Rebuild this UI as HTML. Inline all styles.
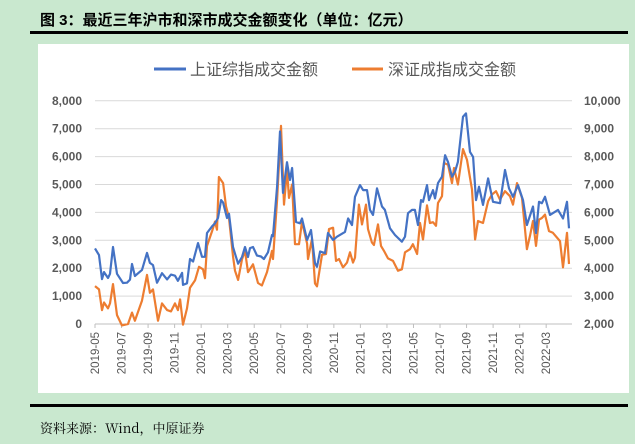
<!DOCTYPE html>
<html><head><meta charset="utf-8">
<style>
body{margin:0;width:635px;height:439px;background:#c9e8cf;overflow:hidden;font-family:"Liberation Sans","Noto Sans CJK SC",sans-serif;}
</style></head>
<body>
<svg width="635" height="439" xmlns="http://www.w3.org/2000/svg">
<text x="40" y="25" font-size="15" font-weight="bold" fill="#000" font-family="'Liberation Sans','Noto Sans CJK SC',sans-serif">图 3：最近三年沪市和深市成交金额变化（单位：亿元）</text>
<rect x="30" y="31" width="598" height="3" fill="#000"/>
<rect x="38" y="44" width="591" height="349" fill="#fff"/>
<g id="grid"></g>
<g id="ticks"></g>
<g id="series"></g>
<g>
<line x1="154" y1="69" x2="186" y2="69" stroke="#4472c4" stroke-width="3"/>
<text x="190" y="75" font-size="16" fill="#595959">上证综指成交金额</text>
<line x1="352" y1="69" x2="383" y2="69" stroke="#ed7d31" stroke-width="3"/>
<text x="388" y="75" font-size="16" fill="#595959">深证成指成交金额</text>
</g>
<rect x="30" y="404" width="598" height="3" fill="#000"/>
<text x="40" y="433" font-size="13" fill="#000" font-family="'Noto Serif CJK SC','Liberation Serif',serif">资料来源：Wind，中原证券</text>
</svg>
<script>
const leftTicks=[0,1000,2000,3000,4000,5000,6000,7000,8000];
const rightTicks=[2000,3000,4000,5000,6000,7000,8000,9000,10000];
const xLabels=["2019-05","2019-07","2019-09","2019-11","2020-01","2020-03","2020-05","2020-07","2020-09","2020-11","2021-01","2021-03","2021-05","2021-07","2021-09","2021-11","2022-01","2022-03"];
const shMonths=[0,.3,.53,.68,.98,1.13,1.36,1.66,2.11,2.41,2.64,2.79,3.01,3.54,3.92,4.14,4.37,4.67,5.05,5.43,5.73,6.03,6.25,6.56,6.63,6.93,7.16,7.39,7.76,8.06,8.29,8.44,8.82,9.04,9.27,9.5,9.65,9.95,10.1,10.4,10.55,10.78,11.08,11.3,11.53,11.68,11.91,12.21,12.51,12.73,13.04,13.34,13.41,13.72,13.94,14.17,14.47,14.69,14.85,15.15,15.45,15.6,15.98,16.28,16.58,16.73,16.96,17.33,17.56,17.94,18.24,18.84,19.07,19.37,19.59,19.97,20.2,20.5,20.72,20.95,21.25,21.63,21.85,22.23,22.61,23.13,23.36,23.59,23.89,24.11,24.34,24.57,24.72,25.02,25.17,25.47,25.62,25.85,26.15,26.38,26.6,26.9,27.13,27.35,27.73,27.96,28.26,28.49,28.71,28.94,29.24,29.62,29.99,30.52,30.9,31.2,31.5,31.88,32.25,32.55,33.01,33.23,33.46,33.68,33.91,34.29,34.89,35.27,35.57,35.72];
const shValues=[2710,2470,1610,1860,1650,1800,2760,1800,1470,1480,1590,2150,1720,1940,2550,2190,2110,1480,1820,1600,1770,1730,1550,1830,1400,1460,2330,2240,2900,2410,2410,3260,3500,3610,3800,4440,4350,3800,3950,2760,2520,2160,2400,2760,2400,2720,2760,2450,2420,2330,2570,3190,3150,4930,6900,4700,5800,5160,5590,3660,3610,3780,3010,3370,2180,2050,2600,2540,3260,3010,3130,3300,3780,3550,4560,4980,4800,4800,4090,3910,4860,4210,4090,3430,3190,2950,3130,3970,4090,4090,3550,4440,4380,4980,4440,4800,4500,5050,5280,6050,5810,5280,5460,5810,7430,7550,6170,5990,4440,4920,4270,5220,4380,4330,5520,4860,4560,4980,4440,3550,4210,3260,4380,4330,4560,3910,4090,3780,4380,3430];
const szMonths=[0,.3,.53,.68,.98,1.13,1.36,1.66,2.03,2.49,2.79,3.01,3.54,3.92,4.14,4.37,4.75,5.05,5.43,5.73,6.03,6.25,6.41,6.63,6.93,7.16,7.54,7.84,8.14,8.29,8.44,8.82,9.04,9.19,9.34,9.65,9.87,10.1,10.4,10.55,10.78,11.08,11.3,11.53,11.91,12.28,12.58,12.96,13.34,13.41,13.72,14.02,14.24,14.47,14.62,14.85,15.07,15.37,15.6,15.98,16.05,16.35,16.58,16.73,17.11,17.41,17.63,17.94,18.16,18.39,18.69,18.99,19.22,19.44,19.59,19.89,20.12,20.42,20.57,20.87,21.02,21.33,21.55,21.78,22.08,22.46,22.83,23.13,23.36,23.74,23.96,24.27,24.49,24.72,25.02,25.24,25.47,25.7,25.85,26.15,26.3,26.6,26.9,27.05,27.35,27.73,28.03,28.33,28.41,28.64,28.86,29.24,29.62,29.92,30.22,30.52,30.9,31.27,31.5,31.8,32.18,32.55,32.78,33.01,33.23,33.46,33.68,33.91,34.21,34.51,35.04,35.27,35.57,35.72];
const szValues=[3360,3240,2500,2770,2560,2740,3430,2320,1950,2000,2410,2120,2840,3760,3120,3240,2120,2740,2500,2450,2740,2500,2880,1980,2560,3300,3570,4050,3960,3640,4800,5320,5670,5380,7270,7050,6220,5800,4430,3910,3580,4320,4620,3860,4140,3470,3380,3860,4620,4330,6450,9100,6280,7520,6520,7000,4860,4860,5670,4880,4330,5050,3450,3350,4480,4510,5400,5450,4260,4330,4030,4200,4570,4200,4380,6280,5570,6280,5400,4920,4830,5570,4800,4620,4350,4260,3910,3960,4570,4680,4860,4510,5620,5030,6250,5620,5650,5520,6340,6580,7770,7710,7050,7590,7000,8270,7880,7050,6820,5030,5690,5620,6400,6640,6760,6460,6760,6580,6280,7050,6520,4680,5160,5690,4800,5740,5800,5920,5330,5270,4970,4030,5270,4150];

const NS="http://www.w3.org/2000/svg";
const X0=95,PXM=13.27,Y0=324,PX1000=27.9;
function xScale(m){return X0+m*PXM;}
function yLeft(v){return Y0-v/1000*PX1000;}
function yRight(v){return Y0-(v-2000)/1000*PX1000;}
function mk(tag,attrs,parent){const e=document.createElementNS(NS,tag);for(const k in attrs)e.setAttribute(k,attrs[k]);parent.appendChild(e);return e;}
const grid=document.getElementById('grid'),ticks=document.getElementById('ticks'),ser=document.getElementById('series');
leftTicks.forEach((v,i)=>{
  const y=yLeft(v);
  if(v>0){const g=mk('line',{x1:95,x2:572,y1:y,y2:y,stroke:'#d9d9d9','stroke-width':1},grid);
  
  }
  const t=mk('text',{x:82,y:y+4,'text-anchor':'end','font-size':12,'font-weight':'bold',fill:'#595959'},ticks);
  t.textContent=v.toLocaleString('en-US');
  
  
});
rightTicks.forEach(v=>{
  const t=mk('text',{x:584,y:yRight(v)+4,'font-size':12,'font-weight':'bold',fill:'#595959'},ticks);
  t.textContent=v.toLocaleString('en-US');
  
  
});
const ax=mk('line',{x1:95,x2:572,y1:Y0,y2:Y0,stroke:'#bfbfbf','stroke-width':1},ticks);


xLabels.forEach((s,i)=>{
  const x=xScale(i*2);
  const tk=mk('line',{x1:x,x2:x,y1:Y0,y2:Y0+4,stroke:'#bfbfbf'},ticks);
  
  
  const t=mk('text',{x:0,y:0,'text-anchor':'end','font-size':11.5,fill:'#595959',transform:`translate(${x+4},${Y0+8}) rotate(-90)`},ticks);
  t.textContent=s;
  
  
});
function line(ms,vs,yf,color,name){
  const d=ms.map((m,i)=>(i?'L':'M')+xScale(m).toFixed(1)+','+yf(vs[i]).toFixed(1)).join('');
  const p=mk('path',{d:d,fill:'none',stroke:color,'stroke-width':2.2,'stroke-linejoin':'round'},ser);
  
  
}
line(szMonths,szValues,yRight,'#ed7d31','sz-turnover-line');
line(shMonths,shValues,yLeft,'#4472c4','sh-turnover-line');
</script>
</body></html>
